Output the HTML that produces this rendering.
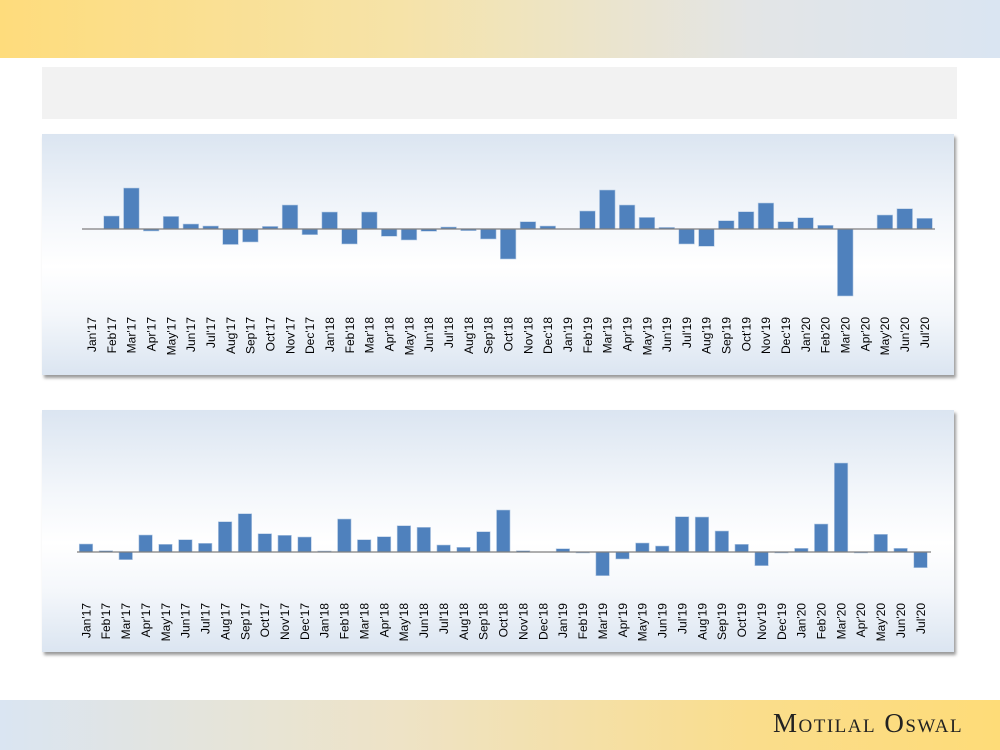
<!DOCTYPE html>
<html><head><meta charset="utf-8"><style>
html,body{margin:0;padding:0;width:1000px;height:750px;overflow:hidden;background:#fff;font-family:"Liberation Sans",sans-serif}
.hdr{position:absolute;left:0;top:0;width:1000px;height:58px;background:linear-gradient(90deg,#fedc7c 0%,#f6e3a8 40%,#e3e5e6 75%,#dae5f2 100%)}
.gbox{position:absolute;left:42px;top:67px;width:915px;height:52px;background:#f2f2f2}
.panel{position:absolute;left:42px;width:912px;background:linear-gradient(180deg,#dbe5f1 0%,#f4f7fb 35%,#ffffff 55%,#f4f7fb 75%,#dbe5f1 100%);box-shadow:2px 3px 3px #9a9a9a}
.ftr{position:absolute;left:0;top:700px;width:1000px;height:50px;background:linear-gradient(90deg,#dae5f2 0%,#eee3c6 40%,#fadd8c 75%,#fedc78 100%)}
.logo{position:absolute;left:773px;top:708px;font-family:"Liberation Serif",serif;font-size:27px;font-variant:small-caps;letter-spacing:1.5px;color:#222}
svg{position:absolute;left:0;top:0}
text{font-family:"Liberation Sans",sans-serif;font-size:12px;fill:#000}
</style></head><body>
<div class="hdr"></div>
<div class="gbox"></div>
<div class="panel" style="top:134px;height:241px"></div>
<div class="panel" style="top:410px;height:242px"></div>
<div class="ftr"></div>
<div class="logo">Motilal Oswal</div>
<svg width="1000" height="750" id="s">
<g id="top"></g><g id="bot"></g>
<line x1="82" y1="229" x2="935" y2="229" stroke="#7f7f7f" stroke-width="1.2"/>
<line x1="77" y1="552" x2="931" y2="552" stroke="#7f7f7f" stroke-width="1.2"/>
<g id="tl">
<text transform="translate(96,317) rotate(-90)" text-anchor="end">Jan'17</text>
<text transform="translate(115.8,317) rotate(-90)" text-anchor="end">Feb'17</text>
<text transform="translate(135.7,317) rotate(-90)" text-anchor="end">Mar'17</text>
<text transform="translate(155.5,317) rotate(-90)" text-anchor="end">Apr'17</text>
<text transform="translate(175.3,317) rotate(-90)" text-anchor="end">May'17</text>
<text transform="translate(195.2,317) rotate(-90)" text-anchor="end">Jun'17</text>
<text transform="translate(215,317) rotate(-90)" text-anchor="end">Jul'17</text>
<text transform="translate(234.8,317) rotate(-90)" text-anchor="end">Aug'17</text>
<text transform="translate(254.6,317) rotate(-90)" text-anchor="end">Sep'17</text>
<text transform="translate(274.5,317) rotate(-90)" text-anchor="end">Oct'17</text>
<text transform="translate(294.3,317) rotate(-90)" text-anchor="end">Nov'17</text>
<text transform="translate(314.1,317) rotate(-90)" text-anchor="end">Dec'17</text>
<text transform="translate(334,317) rotate(-90)" text-anchor="end">Jan'18</text>
<text transform="translate(353.8,317) rotate(-90)" text-anchor="end">Feb'18</text>
<text transform="translate(373.6,317) rotate(-90)" text-anchor="end">Mar'18</text>
<text transform="translate(393.5,317) rotate(-90)" text-anchor="end">Apr'18</text>
<text transform="translate(413.3,317) rotate(-90)" text-anchor="end">May'18</text>
<text transform="translate(433.1,317) rotate(-90)" text-anchor="end">Jun'18</text>
<text transform="translate(452.9,317) rotate(-90)" text-anchor="end">Jul'18</text>
<text transform="translate(472.8,317) rotate(-90)" text-anchor="end">Aug'18</text>
<text transform="translate(492.6,317) rotate(-90)" text-anchor="end">Sep'18</text>
<text transform="translate(512.4,317) rotate(-90)" text-anchor="end">Oct'18</text>
<text transform="translate(532.3,317) rotate(-90)" text-anchor="end">Nov'18</text>
<text transform="translate(552.1,317) rotate(-90)" text-anchor="end">Dec'18</text>
<text transform="translate(571.9,317) rotate(-90)" text-anchor="end">Jan'19</text>
<text transform="translate(591.8,317) rotate(-90)" text-anchor="end">Feb'19</text>
<text transform="translate(611.6,317) rotate(-90)" text-anchor="end">Mar'19</text>
<text transform="translate(631.4,317) rotate(-90)" text-anchor="end">Apr'19</text>
<text transform="translate(651.3,317) rotate(-90)" text-anchor="end">May'19</text>
<text transform="translate(671.1,317) rotate(-90)" text-anchor="end">Jun'19</text>
<text transform="translate(690.9,317) rotate(-90)" text-anchor="end">Jul'19</text>
<text transform="translate(710.7,317) rotate(-90)" text-anchor="end">Aug'19</text>
<text transform="translate(730.6,317) rotate(-90)" text-anchor="end">Sep'19</text>
<text transform="translate(750.4,317) rotate(-90)" text-anchor="end">Oct'19</text>
<text transform="translate(770.2,317) rotate(-90)" text-anchor="end">Nov'19</text>
<text transform="translate(790.1,317) rotate(-90)" text-anchor="end">Dec'19</text>
<text transform="translate(809.9,317) rotate(-90)" text-anchor="end">Jan'20</text>
<text transform="translate(829.7,317) rotate(-90)" text-anchor="end">Feb'20</text>
<text transform="translate(849.6,317) rotate(-90)" text-anchor="end">Mar'20</text>
<text transform="translate(869.4,317) rotate(-90)" text-anchor="end">Apr'20</text>
<text transform="translate(889.2,317) rotate(-90)" text-anchor="end">May'20</text>
<text transform="translate(909,317) rotate(-90)" text-anchor="end">Jun'20</text>
<text transform="translate(928.9,317) rotate(-90)" text-anchor="end">Jul'20</text>
</g>
<g id="bl">
<text transform="translate(90.3,603) rotate(-90)" text-anchor="end">Jan'17</text>
<text transform="translate(110.2,603) rotate(-90)" text-anchor="end">Feb'17</text>
<text transform="translate(130,603) rotate(-90)" text-anchor="end">Mar'17</text>
<text transform="translate(149.9,603) rotate(-90)" text-anchor="end">Apr'17</text>
<text transform="translate(169.8,603) rotate(-90)" text-anchor="end">May'17</text>
<text transform="translate(189.7,603) rotate(-90)" text-anchor="end">Jun'17</text>
<text transform="translate(209.5,603) rotate(-90)" text-anchor="end">Jul'17</text>
<text transform="translate(229.4,603) rotate(-90)" text-anchor="end">Aug'17</text>
<text transform="translate(249.3,603) rotate(-90)" text-anchor="end">Sep'17</text>
<text transform="translate(269.1,603) rotate(-90)" text-anchor="end">Oct'17</text>
<text transform="translate(289,603) rotate(-90)" text-anchor="end">Nov'17</text>
<text transform="translate(308.9,603) rotate(-90)" text-anchor="end">Dec'17</text>
<text transform="translate(328.7,603) rotate(-90)" text-anchor="end">Jan'18</text>
<text transform="translate(348.6,603) rotate(-90)" text-anchor="end">Feb'18</text>
<text transform="translate(368.5,603) rotate(-90)" text-anchor="end">Mar'18</text>
<text transform="translate(388.4,603) rotate(-90)" text-anchor="end">Apr'18</text>
<text transform="translate(408.2,603) rotate(-90)" text-anchor="end">May'18</text>
<text transform="translate(428.1,603) rotate(-90)" text-anchor="end">Jun'18</text>
<text transform="translate(448,603) rotate(-90)" text-anchor="end">Jul'18</text>
<text transform="translate(467.8,603) rotate(-90)" text-anchor="end">Aug'18</text>
<text transform="translate(487.7,603) rotate(-90)" text-anchor="end">Sep'18</text>
<text transform="translate(507.6,603) rotate(-90)" text-anchor="end">Oct'18</text>
<text transform="translate(527.4,603) rotate(-90)" text-anchor="end">Nov'18</text>
<text transform="translate(547.3,603) rotate(-90)" text-anchor="end">Dec'18</text>
<text transform="translate(567.2,603) rotate(-90)" text-anchor="end">Jan'19</text>
<text transform="translate(587.1,603) rotate(-90)" text-anchor="end">Feb'19</text>
<text transform="translate(606.9,603) rotate(-90)" text-anchor="end">Mar'19</text>
<text transform="translate(626.8,603) rotate(-90)" text-anchor="end">Apr'19</text>
<text transform="translate(646.7,603) rotate(-90)" text-anchor="end">May'19</text>
<text transform="translate(666.5,603) rotate(-90)" text-anchor="end">Jun'19</text>
<text transform="translate(686.4,603) rotate(-90)" text-anchor="end">Jul'19</text>
<text transform="translate(706.3,603) rotate(-90)" text-anchor="end">Aug'19</text>
<text transform="translate(726.1,603) rotate(-90)" text-anchor="end">Sep'19</text>
<text transform="translate(746,603) rotate(-90)" text-anchor="end">Oct'19</text>
<text transform="translate(765.9,603) rotate(-90)" text-anchor="end">Nov'19</text>
<text transform="translate(785.8,603) rotate(-90)" text-anchor="end">Dec'19</text>
<text transform="translate(805.6,603) rotate(-90)" text-anchor="end">Jan'20</text>
<text transform="translate(825.5,603) rotate(-90)" text-anchor="end">Feb'20</text>
<text transform="translate(845.4,603) rotate(-90)" text-anchor="end">Mar'20</text>
<text transform="translate(865.2,603) rotate(-90)" text-anchor="end">Apr'20</text>
<text transform="translate(885.1,603) rotate(-90)" text-anchor="end">May'20</text>
<text transform="translate(905,603) rotate(-90)" text-anchor="end">Jun'20</text>
<text transform="translate(924.8,603) rotate(-90)" text-anchor="end">Jul'20</text>
</g>
</svg>
<script>
var NS="http://www.w3.org/2000/svg";
function draw(id,vals,c0,step,base,w){var g=document.getElementById(id);
vals.forEach(function(v,i){if(v===0)return;var r=document.createElementNS(NS,"rect");var cx=c0+i*step;
r.setAttribute("x",cx-w/2);r.setAttribute("width",w);
r.setAttribute("y",v>0?base-v:base);r.setAttribute("height",Math.abs(v));
r.setAttribute("fill","#4f81bd");r.setAttribute("stroke","#b9cde5");r.setAttribute("stroke-width","0.6");g.appendChild(r);});}
draw("top",[0,13,41,-2,12.6,5,3,-15.5,-13,2.6,24,-5.7,17,-15,17,-7.3,-11,-2.3,2,-1.7,-10,-30,7.3,3,0,18,39,24,11.6,1.6,-15,-17.3,8.3,17.3,26,7.3,11.3,3.7,-67,0,14,20.3,10.7],91.7,19.83,229,15.6);
draw("bot",[8,1.3,-7.7,17,7.7,12.3,8.7,30.3,38.3,18.3,16.7,15,1,33,12.3,15.3,26.3,24.7,7,4.7,20.3,42,1.3,0,3.3,-1,-23.7,-7,9,6,35.3,35,21,7.7,-13.7,-1,3.7,28,89,-1,17.7,3.7,-15.7],86,19.87,552,13.5);
</script>
</body></html>
